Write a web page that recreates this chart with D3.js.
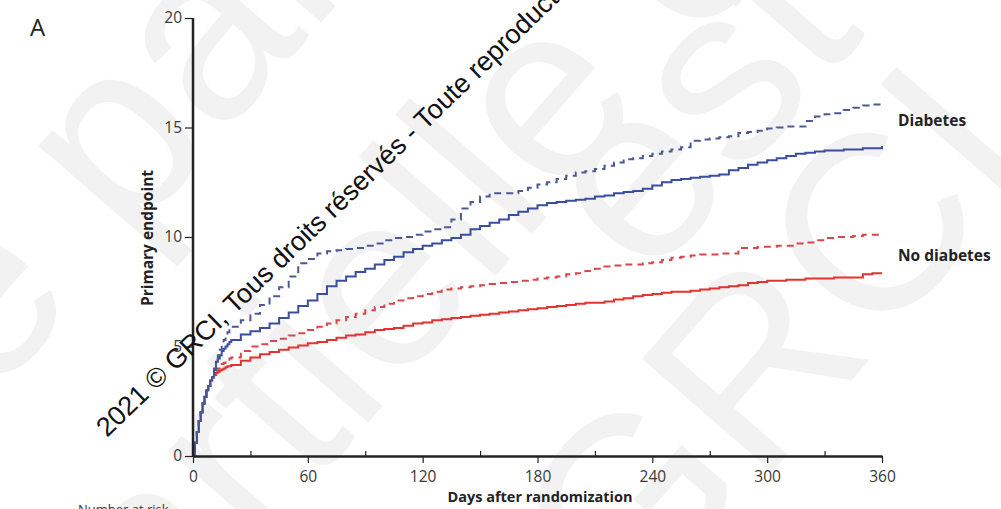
<!DOCTYPE html>
<html>
<head>
<meta charset="utf-8">
<script src="https://cdn.jsdelivr.net/npm/d3@7"></script>
<style>
  html, body { margin: 0; padding: 0; background: #fff; }
  svg { display: block; }
</style>
</head>
<body>
<svg id="chart" width="1001" height="509"></svg>
<script>
// Follow-up days at which the cumulative event curves are sampled
const days = [0,1,2,3,4,5,6,7,8,9,10,11,12,13,14,15,16,17,18,19,20,
  25,30,35,40,45,50,55,60,65,70,75,80,85,90,95,100,105,110,115,120,125,130,135,140,145,150,155,160,165,170,175,180,
  185,190,195,200,205,210,215,220,225,230,235,240,245,250,255,260,265,270,275,280,285,290,295,300,305,310,315,320,325,330,335,340,345,350,355,360];

// Primary endpoint (%) – diabetes, solid curve
const diabetesSolid = [0,0.6,1.1,1.6,2.0,2.4,2.7,3.0,3.2,3.45,3.6,3.95,4.3,4.45,4.6,4.8,4.9,5.0,5.1,5.2,5.3,
  5.55,5.7,5.85,6.05,6.3,6.55,6.85,7.1,7.4,7.75,8.0,8.2,8.4,8.55,8.75,8.95,9.1,9.3,9.45,9.6,9.7,9.85,9.95,10.1,10.35,10.5,10.65,10.8,11.0,11.15,11.3,11.45,
  11.55,11.6,11.65,11.7,11.75,11.85,11.9,12.0,12.05,12.1,12.2,12.35,12.5,12.6,12.65,12.7,12.75,12.8,12.85,13.05,13.15,13.3,13.4,13.5,13.6,13.7,13.8,13.85,13.9,13.95,13.95,14.0,14.0,14.05,14.05,14.15];

// Primary endpoint (%) – diabetes, dashed curve
const diabetesDashed = [0,0.6,1.1,1.6,2.0,2.4,2.7,3.0,3.2,3.45,3.6,4.0,4.4,4.6,4.85,5.1,5.3,5.5,5.65,5.8,5.9,
  6.2,6.5,6.9,7.3,7.7,8.2,8.8,9.0,9.25,9.35,9.4,9.45,9.5,9.6,9.7,9.85,9.95,10.0,10.1,10.25,10.35,10.45,10.8,11.3,11.6,11.85,12.0,12.0,12.0,12.1,12.25,12.4,
  12.5,12.65,12.8,12.95,13.0,13.1,13.25,13.4,13.55,13.6,13.7,13.8,13.9,14.0,14.1,14.4,14.45,14.5,14.55,14.6,14.75,14.8,14.85,14.95,15.0,15.05,15.05,15.3,15.5,15.6,15.65,15.8,15.9,16.0,16.05,16.15];

// Primary endpoint (%) – no diabetes, solid curve
const noDiabetesSolid = [0,0.6,1.1,1.6,2.0,2.4,2.7,3.0,3.2,3.45,3.6,3.7,3.8,3.85,3.9,3.95,4.0,4.05,4.1,4.1,4.15,
  4.35,4.5,4.65,4.75,4.85,4.95,5.05,5.15,5.2,5.3,5.4,5.5,5.55,5.65,5.75,5.8,5.85,5.95,6.05,6.1,6.2,6.25,6.3,6.35,6.4,6.45,6.5,6.55,6.6,6.65,6.7,6.75,
  6.8,6.85,6.9,6.95,7.0,7.0,7.05,7.15,7.2,7.3,7.35,7.4,7.45,7.5,7.5,7.55,7.6,7.65,7.7,7.75,7.8,7.9,7.95,8.0,8.0,8.05,8.05,8.1,8.1,8.1,8.15,8.15,8.15,8.3,8.35,8.35];

// Primary endpoint (%) – no diabetes, dashed curve
const noDiabetesDashed = [0,0.6,1.1,1.6,2.0,2.4,2.7,3.0,3.2,3.45,3.6,3.75,3.9,4.0,4.1,4.2,4.25,4.35,4.4,4.45,4.5,
  4.8,5.0,5.1,5.25,5.35,5.5,5.6,5.75,5.9,6.05,6.2,6.35,6.5,6.65,6.8,6.95,7.1,7.2,7.3,7.4,7.5,7.6,7.65,7.7,7.75,7.8,7.85,7.9,7.95,8.0,8.05,8.1,
  8.15,8.2,8.3,8.35,8.45,8.55,8.65,8.7,8.75,8.75,8.8,8.85,8.95,9.05,9.1,9.15,9.2,9.2,9.25,9.25,9.5,9.5,9.55,9.55,9.6,9.6,9.7,9.75,9.85,9.95,10.0,10.0,10.05,10.1,10.1,10.1];

const xTicks = [0, 60, 120, 180, 240, 300, 360];
const xMinorTicks = [30, 90, 150, 210, 270, 330];
const yTicks = [0, 5, 10, 15, 20];

const svg = d3.select("#chart");
const font = "'Open Sans', 'Noto Sans', sans-serif";
const arial = "'Liberation Sans', Arial, sans-serif";

const x = d3.scaleLinear().domain([0, 360]).range([193, 882]);
const y = d3.scaleLinear().domain([0, 20]).range([456, 18]);

// Faint background stamp, repeated diagonally
const stamp = svg.append("g")
  .attr("fill", "#f2f2f2")
  .attr("font-family", arial)
  .attr("font-size", 250);
[
  { x: -374, y: 822, t: "même partielle est interdite" },
  { x: -427, y: 1337, t: "même partielle est interdite" },
  { x: 648, y: 285, t: "est interdite" },
  { x: 631, y: 634, t: "GRCI" }
].forEach(d => {
  stamp.append("text")
    .attr("transform", `translate(${d.x},${d.y}) rotate(-49)`)
    .text(d.t);
});

// Curves
const series = [
  { values: noDiabetesSolid, color: "#e3322f", dash: null },
  { values: noDiabetesDashed, color: "#d8474b", dash: "7,5" },
  { values: diabetesSolid, color: "#3b4d9e", dash: null },
  { values: diabetesDashed, color: "#4d5a92", dash: "7,5" }
];

const line = d3.line()
  .x((d, i) => x(days[i]))
  .y(d => y(d))
  .curve(d3.curveStepAfter);

svg.append("g").selectAll("path")
  .data(series)
  .join("path")
  .attr("d", s => line(s.values))
  .attr("fill", "none")
  .attr("stroke", s => s.color)
  .attr("stroke-width", 2)
  .attr("stroke-dasharray", s => s.dash);

// Axes
const axisColor = "#222";
const yAxis = svg.append("g")
  .attr("transform", `translate(${x(0)},0)`)
  .call(d3.axisLeft(y).tickValues(yTicks).tickSize(8).tickPadding(3));

svg.append("g")
  .attr("transform", `translate(0,${y(0)})`)
  .call(d3.axisBottom(x).tickValues(xTicks).tickSize(7).tickPadding(8).tickSizeOuter(0));

svg.append("g")
  .attr("transform", `translate(0,${y(0)})`)
  .call(d3.axisTop(x).tickValues(xMinorTicks).tickSize(5).tickFormat(""))
  .call(g => g.select(".domain").remove());

svg.selectAll(".domain").attr("stroke", axisColor).attr("stroke-width", 2.5);
svg.selectAll(".tick line").attr("stroke", axisColor).attr("stroke-width", 1.2);
svg.selectAll(".tick text")
  .attr("fill", "#3a3a3a")
  .attr("font-family", font)
  .attr("font-size", 15.5);
yAxis.select(".domain").attr("d", `M0,${y(20)}V${y(0)}`);

// Axis titles
svg.append("text")
  .attr("transform", `translate(153,238) rotate(-90)`)
  .attr("text-anchor", "middle")
  .attr("font-family", font).attr("font-weight", 700).attr("font-size", 15.5)
  .attr("fill", "#222")
  .text("Primary endpoint");

svg.append("text")
  .attr("x", 540).attr("y", 502)
  .attr("text-anchor", "middle")
  .attr("font-family", font).attr("font-weight", 700).attr("font-size", 14.5)
  .attr("fill", "#222")
  .text("Days after randomization");

// Group labels
svg.append("text").attr("x", 898).attr("y", 126)
  .attr("font-family", font).attr("font-weight", 700).attr("font-size", 15.5).attr("fill", "#222")
  .text("Diabetes");
svg.append("text").attr("x", 898).attr("y", 261)
  .attr("font-family", font).attr("font-weight", 700).attr("font-size", 15.5).attr("fill", "#222")
  .text("No diabetes");

// Panel letter
svg.append("text").attr("x", 30).attr("y", 36)
  .attr("font-family", font).attr("font-size", 24).attr("fill", "#222")
  .text("A");

// Risk table heading (continues below)
svg.append("text").attr("x", 78).attr("y", 514)
  .attr("font-family", font).attr("font-size", 13).attr("fill", "#333")
  .text("Number at risk");

// Copyright line across the plot
svg.append("text")
  .attr("transform", "translate(107,438) rotate(-44)")
  .attr("font-family", arial)
  .attr("font-size", 27)
  .attr("fill", "#111")
  .text("2021 © GRCI, Tous droits réservés - Toute reproduction même partielle est interdite");
</script>
</body>
</html>
